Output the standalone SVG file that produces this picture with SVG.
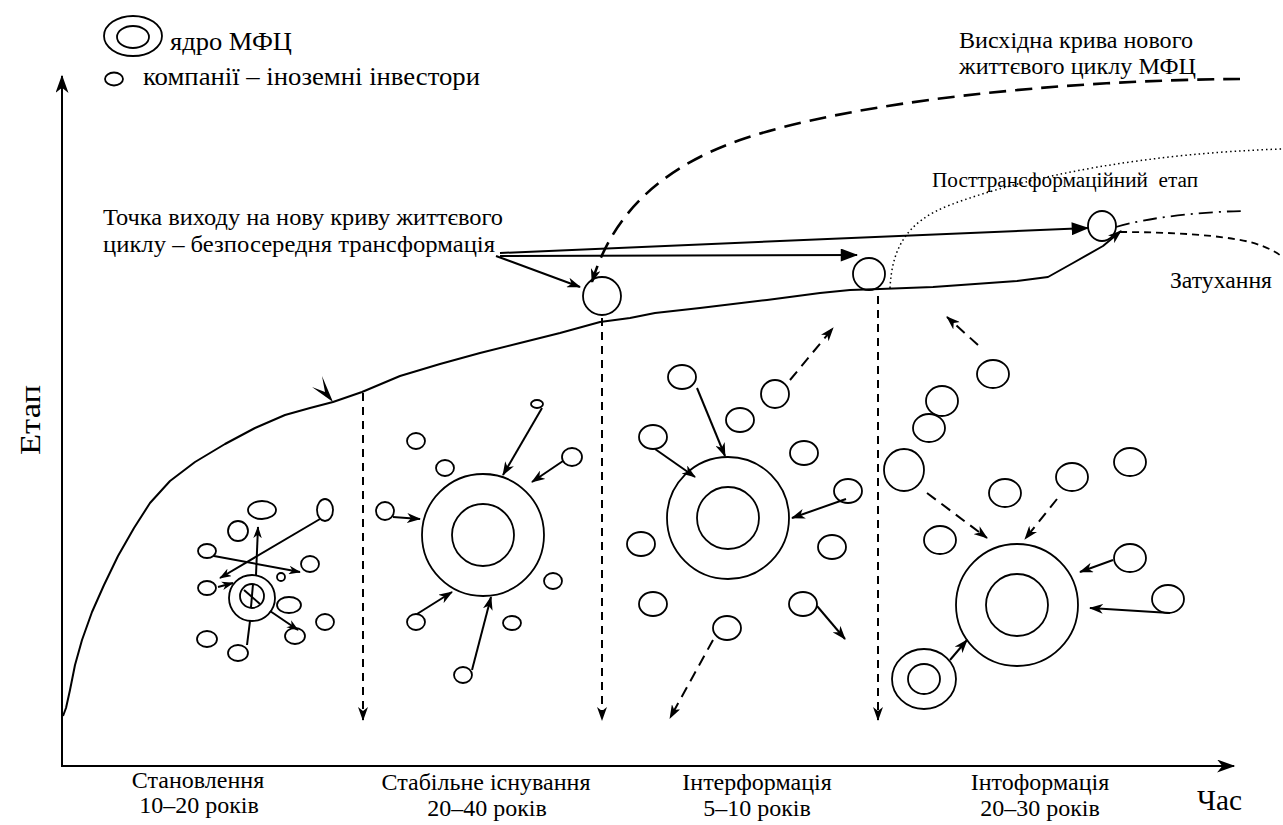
<svg xmlns="http://www.w3.org/2000/svg" width="1283" height="825" viewBox="0 0 1283 825">
<defs>
<style>
.ln{fill:none;stroke:#000;stroke-width:2}
.el{fill:none;stroke:#000;stroke-width:1.8}
.dv{fill:none;stroke:#000;stroke-width:2;stroke-dasharray:8 6}
.dc{fill:none;stroke:#000;stroke-width:2;stroke-dasharray:11 7}
</style>
<marker id="st" viewBox="0 0 14 10" refX="13" refY="5" markerWidth="14" markerHeight="10" markerUnits="userSpaceOnUse" orient="auto"><path d="M0,0 L14,5 L0,10 L4,5 Z"/></marker>
<marker id="sts" viewBox="0 0 14 10" refX="13" refY="5" markerWidth="12" markerHeight="9" markerUnits="userSpaceOnUse" orient="auto"><path d="M0,0 L14,5 L0,10 L4,5 Z"/></marker>
<marker id="stl" viewBox="0 0 14 10" refX="13" refY="5" markerWidth="20" markerHeight="13" markerUnits="userSpaceOnUse" orient="auto"><path d="M0,0 L14,5 L0,10 L4,5 Z"/></marker>
<marker id="tri" viewBox="0 0 16 12" refX="15" refY="6" markerWidth="18" markerHeight="13" markerUnits="userSpaceOnUse" orient="auto"><path d="M0,0 L16,6 L0,12 Z"/></marker>
</defs>
<rect width="1283" height="825" fill="#fff"/>

<g id="legend" font-family="'Liberation Serif', 'DejaVu Serif', serif">
<ellipse class="el" cx="133" cy="36" rx="29" ry="20"/>
<ellipse class="el" cx="133" cy="37" rx="16" ry="11"/>
<text x="170" y="50" font-size="26" textLength="122" lengthAdjust="spacingAndGlyphs">ядро МФЦ</text>
<ellipse class="el" cx="114" cy="79" rx="9" ry="6.5"/>
<text x="143" y="85" font-size="26" textLength="337" lengthAdjust="spacingAndGlyphs">компанії – іноземні інвестори</text>
</g>

<g id="axes" font-family="'Liberation Serif', 'DejaVu Serif', serif">
<line class="ln" x1="62" y1="767" x2="62" y2="76" stroke-width="2.5" marker-end="url(#stl)"/>
<line class="ln" x1="61" y1="766" x2="1234" y2="766" stroke-width="2.5" marker-end="url(#stl)"/>
<text font-size="30" text-anchor="middle" textLength="70" lengthAdjust="spacingAndGlyphs" transform="translate(40,420) rotate(-90)">Етап</text>
<text x="1197" y="810" font-size="29" textLength="45" lengthAdjust="spacingAndGlyphs">Час</text>
</g>

<g id="labels" font-family="'Liberation Serif', 'DejaVu Serif', serif">
<text x="959" y="48" font-size="24" textLength="234" lengthAdjust="spacingAndGlyphs">Висхідна крива нового</text>
<text x="959" y="74" font-size="24" textLength="237" lengthAdjust="spacingAndGlyphs">життєвого циклу МФЦ</text>
<text x="103" y="225" font-size="24" textLength="400" lengthAdjust="spacingAndGlyphs">Точка виходу на нову криву життєвого</text>
<text x="103" y="252" font-size="24" textLength="392" lengthAdjust="spacingAndGlyphs">циклу – безпосередня трансформація</text>
<text x="932" y="187" font-size="20" textLength="266" lengthAdjust="spacingAndGlyphs" xml:space="preserve">Посттрансформаційний  етап</text>
<text x="1170" y="288" font-size="24" textLength="102" lengthAdjust="spacingAndGlyphs">Затухання</text>
<g font-size="24" text-anchor="middle">
<text x="198" y="788">Становлення</text>
<text x="199" y="813">10–20 років</text>
<text x="486" y="790">Стабільне існування</text>
<text x="487" y="816">20–40 років</text>
<text x="757" y="790">Інтерформація</text>
<text x="757" y="816">5–10 років</text>
<text x="1040" y="790">Інтоформація</text>
<text x="1040" y="816">20–30 років</text>
</g>
</g>

<g id="curves">
<path class="ln" stroke-width="2.3" stroke-linejoin="round" d="M63,716 L66,708 L70,690 L75,665 L82,640 L92,612 L104,585 L118,556 L134,528 L150,503 L170,481 L195,462 L225,444 L255,428 L285,415 L310,408 L333,402 L362,392 L400,376 L440,364 L480,353 L520,343 L560,333 L600,322 L630,318 L655,313 L700,308 L767,300 L820,293 L850,290 L880,289 L933,287 L1017,281 L1048,277 L1073,263 L1103,246 L1121,231" marker-end="url(#st)"/>
<path d="M312,387 L333,402 L322,376 L325,392 Z"/>
<path fill="none" stroke="#000" stroke-width="2.6" stroke-dasharray="17 9" d="M1240,79 C1060,80 850,102 740,140 C660,168 612,215 592,282" marker-end="url(#st)"/>
<path fill="none" stroke="#000" stroke-width="1.5" stroke-dasharray="1.5 3" d="M890,288 C892,250 905,222 950,205 C1030,175 1150,153 1283,149"/>
<path fill="none" stroke="#000" stroke-width="1.8" stroke-dasharray="14 6 2 6" d="M1116,227 C1150,217 1200,212 1242,211"/>
<path fill="none" stroke="#000" stroke-width="1.8" stroke-dasharray="7 5" d="M1120,232 C1170,232 1220,235 1250,242 C1268,247 1280,254 1283,258"/>
</g>

<g id="exit-points">
<circle class="el" cx="602" cy="296" r="19"/>
<circle class="el" cx="869" cy="274" r="16"/>
<ellipse class="el" cx="1102" cy="226" rx="14" ry="15"/>
</g>

<g id="connectors">
<line class="ln" x1="496" y1="256" x2="580" y2="287" marker-end="url(#st)"/>
<line class="ln" x1="500" y1="253" x2="1088" y2="228" stroke-width="2.2" marker-end="url(#tri)"/>
<line class="ln" x1="500" y1="256" x2="857" y2="255" stroke-width="2.2" marker-end="url(#tri)"/>
<line class="dv" x1="363" y1="393" x2="363" y2="720" marker-end="url(#st)"/>
<line class="dv" x1="602" y1="318" x2="602" y2="720" marker-end="url(#st)"/>
<line class="dv" x1="878" y1="296" x2="878" y2="720" marker-end="url(#st)"/>
</g>

<g id="cluster1">
<circle class="el" cx="252" cy="598" r="23"/>
<circle class="el" cx="252" cy="596" r="12"/>
<line class="ln" x1="244" y1="590" x2="260" y2="604"/>
<line class="ln" x1="253" y1="584" x2="251" y2="607"/>
<ellipse class="el" cx="262" cy="510" rx="14" ry="9"/>
<ellipse class="el" cx="325" cy="510" rx="8" ry="11"/>
<ellipse class="el" cx="238" cy="531" rx="10" ry="10"/>
<ellipse class="el" cx="207" cy="551" rx="9" ry="7"/>
<ellipse class="el" cx="310" cy="564" rx="9" ry="8"/>
<circle class="el" cx="281" cy="577" r="4"/>
<ellipse class="el" cx="207" cy="588" rx="9" ry="7"/>
<ellipse class="el" cx="289" cy="605" rx="12" ry="8"/>
<ellipse class="el" cx="325" cy="622" rx="9" ry="8"/>
<ellipse class="el" cx="207" cy="639" rx="10" ry="8"/>
<ellipse class="el" cx="295" cy="636" rx="10" ry="8"/>
<ellipse class="el" cx="238" cy="653" rx="10" ry="8"/>
<line class="ln" x1="256" y1="575" x2="258" y2="527" marker-end="url(#sts)"/>
<line class="ln" x1="320" y1="519" x2="220" y2="578" marker-end="url(#sts)"/>
<line class="ln" x1="214" y1="556" x2="300" y2="572" marker-end="url(#sts)"/>
<line class="ln" x1="218" y1="587" x2="233" y2="583" marker-end="url(#sts)"/>
<line class="ln" x1="270" y1="611" x2="298" y2="630" marker-end="url(#sts)"/>
<line class="ln" x1="250" y1="621" x2="247" y2="645"/>
</g>

<g id="cluster2">
<circle class="el" cx="483" cy="535" r="61"/>
<circle class="el" cx="483" cy="535" r="31"/>
<ellipse class="el" cx="537" cy="404" rx="6" ry="4"/>
<ellipse class="el" cx="416" cy="441" rx="9" ry="8"/>
<ellipse class="el" cx="445" cy="468" rx="9" ry="8"/>
<ellipse class="el" cx="572" cy="457" rx="10" ry="9"/>
<ellipse class="el" cx="385" cy="511" rx="9" ry="9"/>
<ellipse class="el" cx="553" cy="581" rx="9" ry="8"/>
<ellipse class="el" cx="416" cy="622" rx="9" ry="8"/>
<ellipse class="el" cx="512" cy="623" rx="9" ry="7"/>
<ellipse class="el" cx="463" cy="675" rx="9" ry="8"/>
<line class="ln" x1="542" y1="408" x2="503" y2="475" marker-end="url(#st)"/>
<line class="ln" x1="563" y1="461" x2="532" y2="482" marker-end="url(#st)"/>
<line class="ln" x1="393" y1="517" x2="420" y2="519" marker-end="url(#st)"/>
<line class="ln" x1="417" y1="614" x2="452" y2="592" marker-end="url(#st)"/>
<line class="ln" x1="472" y1="670" x2="491" y2="597" marker-end="url(#st)"/>
</g>

<g id="cluster3">
<circle class="el" cx="728" cy="518" r="61"/>
<circle class="el" cx="728" cy="518" r="31"/>
<ellipse class="el" cx="682" cy="377" rx="14" ry="12"/>
<ellipse class="el" cx="775" cy="394" rx="14" ry="14"/>
<ellipse class="el" cx="740" cy="420" rx="14" ry="12"/>
<ellipse class="el" cx="653" cy="437" rx="14" ry="12"/>
<ellipse class="el" cx="804" cy="453" rx="14" ry="12"/>
<ellipse class="el" cx="848" cy="491" rx="14" ry="12"/>
<ellipse class="el" cx="641" cy="544" rx="14" ry="12"/>
<ellipse class="el" cx="832" cy="547" rx="14" ry="12"/>
<ellipse class="el" cx="653" cy="604" rx="14" ry="12"/>
<ellipse class="el" cx="803" cy="604" rx="14" ry="12"/>
<ellipse class="el" cx="727" cy="628" rx="14" ry="12"/>
<line class="ln" x1="697" y1="388" x2="725" y2="456" marker-end="url(#st)"/>
<line class="ln" x1="655" y1="449" x2="695" y2="477" marker-end="url(#st)"/>
<line class="ln" x1="846" y1="499" x2="792" y2="518" marker-end="url(#st)"/>
<line class="dc" x1="790" y1="380" x2="833" y2="328" marker-end="url(#st)"/>
<line class="ln" x1="817" y1="606" x2="845" y2="639" marker-end="url(#st)"/>
<line class="dc" x1="713" y1="640" x2="670" y2="718" marker-end="url(#st)"/>
</g>

<g id="cluster4">
<circle class="el" cx="1017" cy="605" r="61"/>
<circle class="el" cx="1017" cy="605" r="31"/>
<ellipse class="el" cx="924" cy="679" rx="32" ry="30"/>
<ellipse class="el" cx="924" cy="679" rx="16" ry="15"/>
<ellipse class="el" cx="993" cy="374" rx="16" ry="14"/>
<ellipse class="el" cx="942" cy="401" rx="16" ry="15"/>
<ellipse class="el" cx="929" cy="428" rx="16" ry="14"/>
<ellipse class="el" cx="904" cy="470" rx="20" ry="21"/>
<ellipse class="el" cx="1005" cy="493" rx="16" ry="14"/>
<ellipse class="el" cx="1072" cy="477" rx="16" ry="14"/>
<ellipse class="el" cx="1130" cy="462" rx="16" ry="14"/>
<ellipse class="el" cx="940" cy="540" rx="16" ry="14"/>
<ellipse class="el" cx="1130" cy="558" rx="16" ry="14"/>
<ellipse class="el" cx="1168" cy="599" rx="16" ry="14"/>
<line class="dc" x1="978" y1="345" x2="947" y2="317" marker-end="url(#st)"/>
<line class="dc" x1="927" y1="493" x2="987" y2="538" marker-end="url(#st)"/>
<line class="dc" x1="1057" y1="499" x2="1025" y2="539" marker-end="url(#st)"/>
<line class="ln" x1="1113" y1="560" x2="1080" y2="572" marker-end="url(#st)"/>
<line class="ln" x1="1170" y1="613" x2="1090" y2="608" marker-end="url(#st)"/>
<line class="ln" x1="950" y1="660" x2="967" y2="640" marker-end="url(#st)"/>
</g>
</svg>
